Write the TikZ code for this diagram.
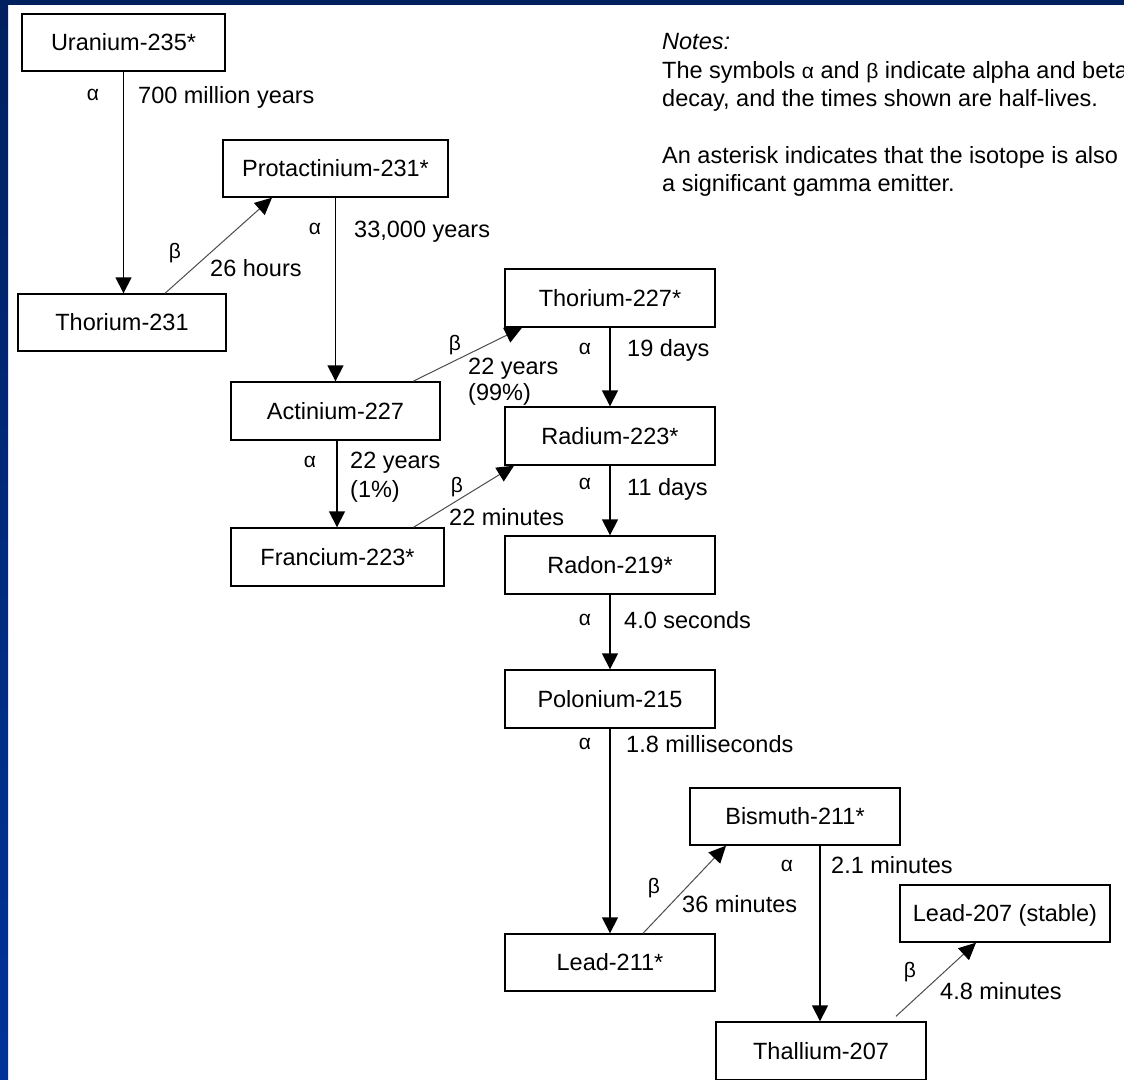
\documentclass[tikz,border=0pt]{standalone}
\usepackage{fontspec}
\setmainfont{Liberation Sans}
\usetikzlibrary{arrows.meta}
\definecolor{navy}{HTML}{002060}
\definecolor{bord}{HTML}{003399}
\begin{document}
\begin{tikzpicture}[x=1pt,y=-1pt,
  iso/.style={draw=black, line width=1.4pt, minimum width=210pt, minimum height=58pt, inner sep=0pt, text height=16.8pt, text depth=0pt, font=\fontsize{23.5}{28}\selectfont},
  lbl/.style={anchor=west, inner sep=0pt, text height=16.8pt, text depth=0pt, font=\fontsize{23.5}{28}\selectfont},
  gr/.style={inner sep=0pt, font=\fontsize{21}{24}\selectfont},
  alphaarrow/.style={line width=1.6pt, -{Triangle[length=16pt,width=16pt,color=black]}},
  betaarrow/.style={line width=1pt, draw=black!70, -{Triangle[length=17pt,width=16pt,color=black]}}]
% background
\fill[white] (0,0) rectangle (1124,1079);
\useasboundingbox (0,0) rectangle (1124,1079);
\fill[navy] (0,0) rectangle (1124,5);
\shade[top color=navy, bottom color=bord] (0,0) rectangle (8,1079);

% isotopes
\node[iso, minimum width=203pt, minimum height=57pt] (u235) at (123.5,42.5) {Uranium-235*};
\node[iso, minimum width=208pt, minimum height=57pt] (th231) at (122,322.5) {Thorium-231};
\node[iso, minimum width=225pt, minimum height=57pt] (pa231) at (335.5,168.5) {Protactinium-231*};
\node[iso] (th227) at (610,298) {Thorium-227*};
\node[iso, minimum width=209pt] (ac227) at (335.5,411) {Actinium-227};
\node[iso] (ra223) at (610,436) {Radium-223*};
\node[iso, minimum width=213pt] (fr223) at (337.5,557) {Francium-223*};
\node[iso] (rn219) at (610,565) {Radon-219*};
\node[iso] (po215) at (610,699) {Polonium-215};
\node[iso, minimum height=57pt] (bi211) at (795,816.5) {Bismuth-211*};
\node[iso, minimum height=57pt] (pb207) at (1005,913.5) {Lead-207 (stable)};
\node[iso, minimum height=57pt] (pb211) at (610,962.5) {Lead-211*};
\node[iso] (tl207) at (821,1051) {Thallium-207};

% alpha decays
\draw[alphaarrow] (u235.south) -- (u235.south |- th231.north);
\draw[alphaarrow] (pa231.south) -- (pa231.south |- ac227.north);
\draw[alphaarrow] (th227.south) -- (ra223.north);
\draw[alphaarrow] ([xshift=1.5pt]ac227.south) -- ([xshift=1.5pt]ac227.south |- fr223.north);
\draw[alphaarrow] (ra223.south) -- (rn219.north);
\draw[alphaarrow] (rn219.south) -- (po215.north);
\draw[alphaarrow] (po215.south) -- (pb211.north);
\draw[alphaarrow] ([xshift=25pt]bi211.south) -- ([xshift=25pt]bi211.south |- tl207.north);

% beta decays
\draw[betaarrow] ([xshift=43pt]th231.north) -- ([xshift=-63.5pt]pa231.south);
\draw[betaarrow] ([xshift=77.5pt]ac227.north) -- ([xshift=-88pt]th227.south);
\draw[betaarrow] ([xshift=76pt]fr223.north) -- ([xshift=-96pt]ra223.south);
\draw[betaarrow] ([xshift=33pt]pb211.north) -- ([xshift=-69pt]bi211.south);
\draw[betaarrow] ([xshift=75pt,yshift=5pt]tl207.north) -- ([xshift=-29pt]pb207.south);

% greek labels
\node[gr] (g1) at (93,95) {α};
\node[gr] (g2) at (315,229) {α};
\node[gr] (g3) at (585,349) {α};
\node[gr] (g4) at (310,462) {α};
\node[gr] (g5) at (585,484) {α};
\node[gr] (g6) at (585,620) {α};
\node[gr] (g7) at (585,744) {α};
\node[gr] (g8) at (787,866) {α};
\node[gr] (b1) at (175,253) {β};
\node[gr] (b2) at (455,345) {β};
\node[gr] (b3) at (457,487) {β};
\node[gr] (b4) at (654,888) {β};
\node[gr] (b5) at (910,972) {β};

% half-lives
\node[lbl] (t1) at (138,95) {700 million years};
\node[lbl] (t2) at (210,268) {26 hours};
\node[lbl] (t3) at (354,229) {33,000 years};
\node[lbl] (t4a) at (468,366) {22 years};
\node[lbl] (t4b) at (468,392) {(99\%)};
\node[lbl] (t5) at (627,348) {19 days};
\node[lbl] (t6a) at (350,460) {22 years};
\node[lbl] (t6b) at (350,489) {(1\%)};
\node[lbl] (t7) at (449,517) {22 minutes};
\node[lbl] (t8) at (627,487) {11 days};
\node[lbl] (t9) at (624,620) {4.0 seconds};
\node[lbl] (t10) at (626,744) {1.8 milliseconds};
\node[lbl] (t11) at (682,904) {36 minutes};
\node[lbl] (t12) at (831,865) {2.1 minutes};
\node[lbl] (t13) at (940,991) {4.8 minutes};

% notes
\node[lbl] (n0) at (662,41) {\itshape Notes:};
\node[lbl] (n1) at (662,70) {The symbols {\fontsize{21}{24}\selectfont α} and {\fontsize{21}{24}\selectfont β} indicate alpha and beta};
\node[lbl] (n2) at (662,98) {decay, and the times shown are half-lives.};
\node[lbl] (n3) at (662,155) {An asterisk indicates that the isotope is also};
\node[lbl] (n4) at (662,183) {a significant gamma emitter.};
\end{tikzpicture}
\end{document}
